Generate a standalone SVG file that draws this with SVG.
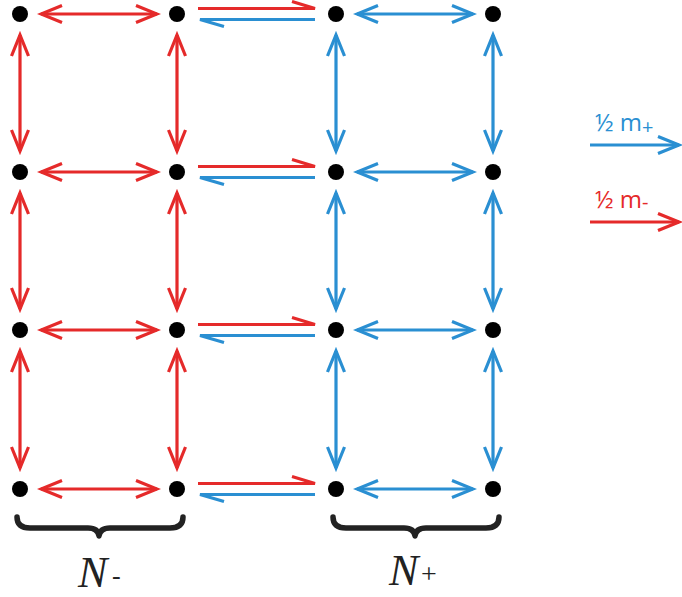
<svg xmlns="http://www.w3.org/2000/svg" width="682" height="597" viewBox="0 0 682 597">
<style>
.r{stroke:#e52a2a;stroke-width:3.2;fill:none}
.b{stroke:#2a8fd2;stroke-width:3.2;fill:none}
.dot{fill:#000}
.lg{font-family:"Open Sans","Liberation Sans",sans-serif;font-size:24px}
.nl{font-family:"Liberation Serif",serif;font-style:italic;font-size:44px;fill:#222}
.sub{font-family:"Liberation Serif",serif;fill:#222}
.brace{stroke:#222;stroke-width:5.5;fill:none;stroke-linecap:round;stroke-linejoin:round}
</style>
<defs>
<marker id="mr" viewBox="-24 -12 28 24" refX="0" refY="0" markerWidth="28" markerHeight="24" markerUnits="userSpaceOnUse" orient="auto-start-reverse"><path d="M-21,-8.5 L0,0 L-21,8.5" fill="none" stroke="#e52a2a" stroke-width="3.2"/></marker>
<marker id="mb" viewBox="-24 -12 28 24" refX="0" refY="0" markerWidth="28" markerHeight="24" markerUnits="userSpaceOnUse" orient="auto-start-reverse"><path d="M-21,-8.5 L0,0 L-21,8.5" fill="none" stroke="#2a8fd2" stroke-width="3.2"/></marker>
</defs>
<g id="connectors">
<path class="r" marker-start="url(#mr)" marker-end="url(#mr)" d="M41,14 H157"/>
<path class="r" marker-start="url(#mr)" marker-end="url(#mr)" d="M41,172 H157"/>
<path class="r" marker-start="url(#mr)" marker-end="url(#mr)" d="M41,330 H157"/>
<path class="r" marker-start="url(#mr)" marker-end="url(#mr)" d="M41,489 H157"/>
<path class="r" marker-start="url(#mr)" marker-end="url(#mr)" d="M20,35 V151"/>
<path class="r" marker-start="url(#mr)" marker-end="url(#mr)" d="M20,193 V309"/>
<path class="r" marker-start="url(#mr)" marker-end="url(#mr)" d="M20,351 V468"/>
<path class="r" marker-start="url(#mr)" marker-end="url(#mr)" d="M177,35 V151"/>
<path class="r" marker-start="url(#mr)" marker-end="url(#mr)" d="M177,193 V309"/>
<path class="r" marker-start="url(#mr)" marker-end="url(#mr)" d="M177,351 V468"/>
<path class="b" marker-start="url(#mb)" marker-end="url(#mb)" d="M357,14 H473"/>
<path class="b" marker-start="url(#mb)" marker-end="url(#mb)" d="M357,172 H473"/>
<path class="b" marker-start="url(#mb)" marker-end="url(#mb)" d="M357,330 H473"/>
<path class="b" marker-start="url(#mb)" marker-end="url(#mb)" d="M357,489 H473"/>
<path class="b" marker-start="url(#mb)" marker-end="url(#mb)" d="M336,35 V151"/>
<path class="b" marker-start="url(#mb)" marker-end="url(#mb)" d="M336,193 V309"/>
<path class="b" marker-start="url(#mb)" marker-end="url(#mb)" d="M336,351 V468"/>
<path class="b" marker-start="url(#mb)" marker-end="url(#mb)" d="M493,35 V151"/>
<path class="b" marker-start="url(#mb)" marker-end="url(#mb)" d="M493,193 V309"/>
<path class="b" marker-start="url(#mb)" marker-end="url(#mb)" d="M493,351 V468"/>
<path class="r" d="M198,8.5 H315 L292,1.5"/>
<path class="b" d="M315,19.5 H200 L224,26.5"/>
<path class="r" d="M198,166.5 H315 L292,159.5"/>
<path class="b" d="M315,177.5 H200 L224,184.5"/>
<path class="r" d="M198,324.5 H315 L292,317.5"/>
<path class="b" d="M315,335.5 H200 L224,342.5"/>
<path class="r" d="M198,483.5 H315 L292,476.5"/>
<path class="b" d="M315,494.5 H200 L224,501.5"/>
</g>
<g id="nodes">
<circle class="dot" cx="20" cy="14" r="8"/><circle class="dot" cx="177" cy="14" r="8"/><circle class="dot" cx="336" cy="14" r="8"/><circle class="dot" cx="493" cy="14" r="8"/>
<circle class="dot" cx="20" cy="172" r="8"/><circle class="dot" cx="177" cy="172" r="8"/><circle class="dot" cx="336" cy="172" r="8"/><circle class="dot" cx="493" cy="172" r="8"/>
<circle class="dot" cx="20" cy="330" r="8"/><circle class="dot" cx="177" cy="330" r="8"/><circle class="dot" cx="336" cy="330" r="8"/><circle class="dot" cx="493" cy="330" r="8"/>
<circle class="dot" cx="20" cy="489" r="8"/><circle class="dot" cx="177" cy="489" r="8"/><circle class="dot" cx="336" cy="489" r="8"/><circle class="dot" cx="493" cy="489" r="8"/>
</g>
<g id="legend">
<text class="lg" x="595" y="131" fill="#2a8fd2">½ m<tspan font-size="20" dy="3">+</tspan></text>
<path class="b" marker-end="url(#mb)" d="M590,145 H679"/>
<text class="lg" x="595" y="208" fill="#e52a2a">½ m<tspan font-size="20" dy="1">-</tspan></text>
<path class="r" marker-end="url(#mr)" d="M590,222 H679"/>
</g>
<g id="braces">
<path class="brace" d="M17,517 Q17,528 30,528 H88 Q98,528 99,536 Q100,528 110,528 H170 Q183,528 183,517"/>
<path class="brace" d="M333,517 Q333,528 346,528 H404 Q414,528 415,536 Q416,528 426,528 H486 Q499,528 499,517"/>
<text class="nl" x="78" y="587">N</text>
<text class="sub" x="112" y="584" font-size="26">-</text>
<text class="nl" x="389" y="585">N</text>
<text class="sub" x="421" y="583" font-size="28">+</text>
</g>
</svg>
